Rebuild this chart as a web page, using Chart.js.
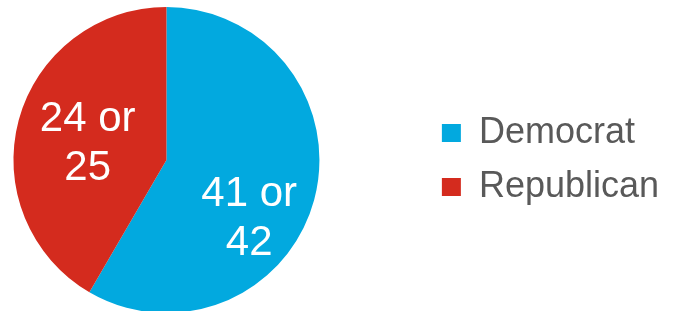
<!DOCTYPE html>
<html>
<head>
<meta charset="utf-8">
<script src="https://cdn.jsdelivr.net/npm/chart.js@4.4.0/dist/chart.umd.min.js"></script>
<style>
  html, body { margin: 0; padding: 0; background: #fff; }
  #wrap { position: relative; width: 673px; height: 311px; overflow: hidden; }
  /* canvas starts left of the page so the pie sits where the legend layout wants it */
  #pie { position: absolute; left: -91px; top: 0; }
</style>
</head>
<body>
<div id="wrap"><canvas id="pie" width="764" height="320"></canvas></div>
<script>
// party split
const parties = ["Democrat", "Republican"];
const shares = [58.4, 41.6];
const sliceLabels = [["41 or", "42"], ["24 or", "25"]];
const colors = ["#02A9DF", "#D42B1E"];

// labels inside the slices, drawn from each arc's geometry
const sliceText = {
  id: "sliceText",
  afterDatasetsDraw(chart, args, opts) {
    const { ctx } = chart;
    const arcs = chart.getDatasetMeta(0).data;
    ctx.save();
    ctx.fillStyle = "#fff";
    ctx.font = "42px 'Liberation Sans', Arial, sans-serif";
    ctx.textAlign = "center";
    ctx.textBaseline = "middle";
    arcs.forEach((arc, i) => {
      const p = arc.getProps(["x", "y", "startAngle", "endAngle", "outerRadius"], true);
      const mid = (p.startAngle + p.endAngle) / 2;
      const r = p.outerRadius * 0.54;
      const nudge = opts.nudge[i] || [0, 0];
      const cx = p.x + Math.cos(mid) * r + nudge[0];
      const cy = p.y + Math.sin(mid) * r + nudge[1];
      const lines = sliceLabels[i];
      const lh = 49;
      lines.forEach((t, j) => {
        ctx.fillText(t, cx, cy + (j - (lines.length - 1) / 2) * lh);
      });
    });
    ctx.restore();
  },
};

new Chart(document.getElementById("pie"), {
  type: "pie",
  data: {
    labels: parties,
    datasets: [
      {
        data: shares,
        backgroundColor: colors,
        borderWidth: 0,
      },
    ],
  },
  options: {
    responsive: false,
    animation: false,
    layout: {
      padding: { top: 7, bottom: 7, left: 0, right: 4 },
    },
    plugins: {
      legend: {
        position: "right",
        labels: {
          color: "#595959",
          font: { family: "'Liberation Sans', Arial, sans-serif", size: 36 },
          boxWidth: 19,
          boxHeight: 18,
          padding: 18,
        },
      },
      tooltip: { enabled: false },
      sliceText: {
        nudge: [
          [3, 37],
          [1, 5],
        ],
      },
    },
  },
  plugins: [sliceText],
});
</script>
</body>
</html>
